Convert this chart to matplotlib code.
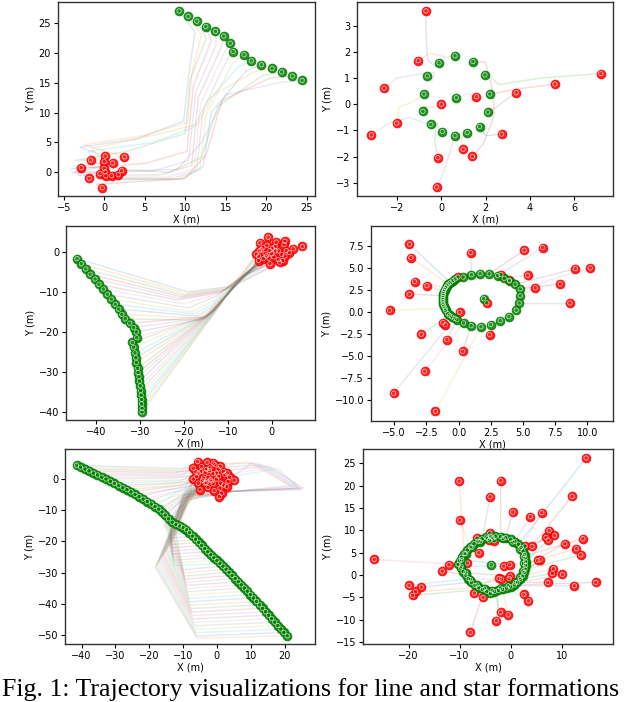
import matplotlib
matplotlib.use('Agg')
import matplotlib.pyplot as plt
import numpy as np

plt.rcParams['font.family'] = ['DejaVu Sans']

# ---------------- Panel 1 (line formation, 15 agents) ----------------
p1_goal_x = [9.24, 10.35, 11.42, 12.53, 13.72, 14.74, 15.56, 15.9, 17.25, 18.15, 19.4, 20.7, 21.9, 23.2, 24.4]
p1_goal_y = [27.0, 26.1, 25.3, 24.4, 23.6, 22.8, 21.6, 20.2, 19.7, 18.65, 18.0, 17.4, 16.8, 16.1, 15.4]
p1_start_x = [0.12, 2.5, -1.68, 0.0, 1.03, -2.83, 0.0, 2.14, -0.53, 0.2, 1.72, 0.9, -1.85, -0.25, 0.1]
p1_start_y = [2.73, 2.6, 2.06, 1.78, 1.56, 0.78, 0.67, 0.28, -0.22, -0.56, -0.39, -0.56, -1.0, -2.56, 0.1]
p1_via = [
    [(-3.0, 4.2), (4.0, 5.6), (9.8, 8.6), (10.4, 16.0), (11.2, 23.5)],
    [(-2.5, 4.6), (5.0, 6.2), (10.3, 8.4), (10.8, 16.5), (12.0, 23.0)],
    [(-3.6, 2.0), (3.0, 3.6), (10.0, 6.5), (10.6, 15.5), (12.6, 22.5)],
    [(-4.0, 0.6), (5.0, 1.5), (10.2, 3.5), (11.0, 14.5), (13.2, 22.0)],
    [(-3.8, -0.2), (6.0, 0.2), (10.4, 2.0), (11.3, 13.5), (13.8, 21.3)],
    [(-3.2, -0.5), (7.0, -0.4), (10.8, 1.2), (11.6, 12.5), (14.4, 20.8)],
    [(-2.2, -0.8), (7.8, -0.8), (11.1, 0.6), (11.9, 11.5), (14.8, 20.0)],
    [(-1.0, -1.0), (8.5, -1.0), (11.4, 0.4), (12.2, 10.5), (15.2, 19.0)],
    [(0.0, -1.1), (9.0, -1.1), (11.8, 0.4), (12.5, 9.5), (15.8, 18.2)],
    [(-2.0, 3.5), (6.0, 5.0), (11.0, 7.5), (12.8, 12.0), (16.5, 17.6)],
    [(1.0, -1.2), (9.5, -1.2), (12.2, 1.0), (13.2, 10.0), (17.5, 17.0)],
    [(-1.5, 4.0), (7.0, 6.5), (11.5, 8.0), (13.5, 13.0), (18.5, 16.8)],
    [(-3.5, 1.0), (8.0, 0.0), (12.0, 2.5), (14.0, 11.0), (19.5, 16.2)],
    [(-1.0, -2.0), (10.0, -1.0), (12.6, 3.0), (14.5, 12.0), (20.5, 15.8)],
    [(-3.9, 0.0), (9.0, 0.5), (12.0, 5.0), (15.0, 13.0), (21.5, 15.0)],
]

# ---------------- Panel 2 (star formation, 15 agents) ----------------
p2_goal_x = [0.62, -0.1, 1.43, -0.63, 1.97, -0.78, 0.68, 2.19, -0.83, 2.1, -0.47, 1.73, 0.05, 1.17, 0.62]
p2_goal_y = [1.85, 1.58, 1.63, 1.08, 1.12, 0.39, 0.25, 0.39, -0.27, -0.3, -0.77, -0.85, -1.04, -1.08, -1.2]
p2_start_x = [-0.69, -1.04, 7.2, 5.13, -2.58, 3.38, 1.59, 0.0, -2.01, -3.15, 2.72, 0.99, -0.15, 1.41, -0.21]
p2_start_y = [3.56, 1.66, 1.17, 0.77, 0.61, 0.44, 0.29, 0.0, -0.72, -1.17, -1.14, -1.72, -2.04, -1.99, -3.16]
p2_goal_of = [1, 0, 4, 7, 3, 9, 6, 8, 5, 10, 11, 13, 12, 2, 14]
p2_via = [
    [(-0.68, 2.6), (-0.62, 1.7), (-0.3, 1.45)],
    [(-0.5, 1.95), (0.2, 1.8)],
    [(4.5, 1.0), (2.6, 0.75), (2.3, 1.0)],
    [(3.6, 0.6), (2.6, 0.45)],
    [(-2.0, 1.0), (-1.0, 1.15), (-0.3, 1.2), (-0.4, 0.9)],
    [(2.8, 0.1), (2.5, -0.1)],
    [(1.2, 0.4), (0.9, 0.3)],
    [(-0.3, -0.1), (-1.0, -0.1)],
    [(-1.9, -0.1), (-1.4, 0.05), (-0.9, 0.3)],
    [(-2.3, -0.7), (-1.4, -0.5), (-0.8, -0.7)],
    [(2.0, -1.2)],
    [(0.9, -1.3)],
    [(-0.3, -1.4), (-0.2, -0.7), (-0.1, -0.95)],
    [(1.9, -1.5), (2.4, -0.4), (2.3, 0.6), (2.0, 1.6)],
    [(0.1, -2.6), (0.4, -1.8)],
]

# ---------------- Panel 3 (line formation, 33 agents) ----------------
p3_goal_x = [-44.3, -43.3, -42.3, -41.3, -40.2, -39.3, -38.3, -37.4, -36.5, -35.6, -34.8, -34.1, -33.3,
             -32.3, -31.4, -30.8, -30.7, -31.7, -31.4, -31.1, -30.9, -30.8, -30.5, -30.4, -30.2, -30.1,
             -29.9, -29.8, -29.7, -29.6, -29.6, -29.5, -29.5]
p3_goal_y = [-1.7, -3.0, -4.3, -5.6, -6.8, -8.1, -9.3, -10.6, -11.8, -13.1, -14.3, -15.6, -16.7,
             -17.8, -18.9, -20.0, -21.4, -22.6, -23.8, -25.2, -26.4, -27.6, -29.0, -30.1, -31.1, -32.2,
             -33.4, -34.6, -35.7, -36.8, -37.9, -39.0, -39.9]
p3_start_x = [-0.8, -2.7, 3.0, 7.0, -1.1, 0.8, 4.9, -2.4, -0.4, 1.5, 3.3, -3.0, 0.0, 3.0, -1.9, 1.5,
              -0.4, -3.0, 0.5, 2.3, -1.5, 1.0, -2.0, 2.8, 0.2, -1.2, 4.0, -2.8, 1.8, -0.6, 2.5, -3.5, 0.9]
p3_start_y = [3.6, 2.2, 2.6, 1.3, 1.6, 1.3, 0.7, 0.5, 0.3, 0.2, 0.3, -1.1, -0.5, -1.1, -1.7, -2.0,
              -3.0, -2.2, -1.3, -0.7, -0.5, 2.4, 1.0, 1.8, 0.9, -1.0, -0.2, 0.2, -2.6, -1.6, -2.2, -0.6, 0.2]
p3_via = [
    [(-3.0, -2.8), (-9.0, -8.6), (-19.0, -10.0)],
    [(-3.2, -3.0), (-9.5, -8.9), (-19.5, -10.4)],
    [(-3.4, -3.2), (-10.0, -9.2), (-20.0, -10.8)],
    [(-3.6, -3.4), (-10.5, -9.5), (-20.5, -11.2)],
    [(-3.8, -3.6), (-11.0, -9.8), (-21.0, -11.6)],
    [(-4.0, -3.8), (-11.5, -10.1), (-21.5, -12.0)],
    [(-4.2, -4.0), (-12.0, -10.4), (-20.0, -13.0)],
    [(-4.4, -4.2), (-12.5, -11.0), (-19.0, -14.0)],
    [(-4.6, -4.4), (-13.0, -12.0), (-18.0, -15.0)],
    [(-4.8, -4.6), (-13.5, -13.0), (-17.5, -15.5)],
    [(-5.0, -4.8), (-14.0, -14.0), (-17.0, -16.0)],
    [(-5.2, -5.0), (-14.5, -15.0), (-16.8, -16.5)],
    [(-5.4, -5.2), (-15.0, -16.0), (-16.6, -17.0)],
    [(-5.6, -5.4), (-15.2, -16.2)],
    [(-5.8, -5.6), (-15.0, -16.4)],
    [(-6.0, -5.8), (-14.8, -16.6)],
    [(-6.2, -6.0), (-14.6, -16.0)],
    [(-6.4, -6.2), (-14.4, -15.8)],
    [(-6.6, -6.4), (-14.2, -15.6)],
    [(-6.8, -6.6), (-14.0, -15.4)],
    [(-7.0, -6.8), (-13.8, -15.2)],
    [(-7.2, -7.0), (-13.6, -15.0)],
    [(-7.4, -7.2), (-13.4, -14.8)],
    [(-7.6, -7.4), (-13.2, -14.6)],
    [(-7.8, -7.6), (-13.0, -14.4)],
    [(-8.0, -7.8), (-12.8, -14.2)],
    [(-8.2, -8.0), (-12.6, -14.0)],
    [(-8.4, -8.2), (-12.4, -13.8)],
    [(-8.6, -8.4), (-12.2, -13.6)],
    [(-8.8, -8.6), (-12.0, -13.4)],
    [(-9.0, -8.8), (-11.8, -13.2)],
    [(-9.2, -9.0), (-11.6, -13.0)],
    [(-9.4, -9.2), (-11.4, -12.8)],
]

# ---------------- Panel 4 (star formation) ----------------
p4_goal_x = [0.36, 1.0, 1.68, 2.38, 3.03, 3.55, 3.96, 4.4, 4.79, 4.79, 4.72, 4.48, 3.91, 3.24, 2.49, 1.74,
             0.98, 0.39, -0.13, -0.52, -0.83, -1.01, -1.14, -1.22, -1.22, -1.19, -1.09, -0.91, -0.65, -0.26,
             1.94, -1.05, -1.2, -1.22, -1.2, -1.15, -1.0, -0.8, -0.45, -0.7, -0.3]
p4_goal_y = [4.0, 4.28, 4.39, 4.36, 4.17, 3.86, 3.56, 3.18, 2.65, 1.89, 1.06, 0.23, -0.49, -0.95, -1.4, -1.63,
             -1.52, -1.21, -0.83, -0.53, -0.15, 0.23, 0.68, 1.17, 1.67, 2.12, 2.58, 2.99, 3.37, 3.79,
             1.55, 0.45, 0.92, 1.42, 1.9, 2.35, 2.8, 3.2, 3.6, -0.35, -0.7]
p4_start_x = [-3.81, -3.7, 0.93, 5.1, 6.53, 9.07, 10.23, 5.36, 3.29, -0.05, 3.94, -3.42, -2.46, 7.9, 5.96,
              -3.83, 2.2, 8.65, -5.36, 0.08, -1.22, -1.04, -2.9, 2.41, -0.91, 0.31, -2.64, -5.05, -1.79]
p4_start_y = [7.73, 6.21, 6.78, 7.05, 7.35, 4.96, 5.04, 4.2, 4.28, 4.0, 3.64, 3.48, 3.03, 3.22, 2.77,
              2.05, 1.06, 1.06, 0.23, 0.0, -1.17, -1.4, -2.5, -2.54, -3.1, -4.43, -6.7, -9.2, -11.25]
p4_goal_of = [28, 37, 1, 3, 4, 7, 8, 5, 3, 0, 6, 36, 35, 8, 9, 34, 30, 10, 31, 22, 19, 20, 39, 13, 18, 16, 17, 40, 15]

# ---------------- Panel 5 (line formation) ----------------
p5_goal_x = [-41.5, -40.3, -39.0, -37.8, -36.5, -35.3, -34.0, -32.8, -31.5, -30.3, -29.0, -27.8, -26.6,
             -25.4, -24.2, -23.0, -21.8, -20.6, -19.4, -18.3, -17.2,
             -16.2, -15.3, -14.3, -13.2, -12.1, -11.0, -10.0, -9.0, -8.1, -7.2, -6.3, -5.4, -4.5, -3.6,
             -2.7, -1.8, -0.9, 0.0, 0.9,
             1.8, 2.7, 3.6, 4.5, 5.4, 6.3, 7.2, 8.1, 9.0, 9.9, 10.8, 11.7, 12.6, 13.5, 14.4, 15.3, 16.2,
             17.1, 18.0, 18.9, 19.8, 20.8]
p5_goal_y = [4.3, 3.7, 3.1, 2.5, 1.8, 1.2, 0.5, -0.1, -0.8, -1.5, -2.2, -2.9, -3.5,
             -4.2, -5.0, -5.7, -6.5, -7.3, -8.1, -8.9, -9.7,
             -10.6, -11.6, -12.8, -13.9, -14.6, -15.1, -15.6, -16.3, -17.2, -18.3, -19.3, -20.3, -21.3, -22.3,
             -23.3, -24.3, -25.2, -26.1, -27.0,
             -27.9, -28.9, -29.9, -30.9, -31.9, -32.9, -33.9, -34.9, -35.9, -37.0, -38.1, -39.2, -40.3,
             -41.4, -42.5, -43.6, -44.7, -45.8, -46.9, -48.0, -49.1, -50.2]
p5_start_x = [-5.7, -2.9, -1.1, -4.5, -7.0, -2.1, 0.4, 1.9, -5.5, -3.5, -1.1, -7.0, -4.0, -2.6, -0.1,
              3.8, 5.1, -5.5, -3.1, -1.1, 1.1, 3.3, -5.0, -2.6, 0.9, 1.4, 0.7, 2.4, -4.7, -0.6,
              -3.5, -1.9, 2.9, -6.0, -0.1, -3.0, -1.5, 0.5, 2.0, -4.2, -2.2, 1.0, -6.2, 3.0, -0.8]
p5_start_y = [5.5, 5.2, 5.0, 3.9, 3.4, 3.4, 3.1, 2.3, 1.8, 2.0, 1.6, -0.1, 0.2, 0.5, -0.1,
              0.5, -0.5, -1.4, -1.2, -1.6, -1.4, -0.9, -3.5, -2.8, -3.0, -4.6, -5.7, 1.3, 2.3, 4.5,
              -1.4, -0.3, -2.5, 0.7, 1.8, 3.0, -0.8, 0.8, -2.0, -0.5, 2.6, 4.0, 2.2, 1.8, -3.8]
# upper-left agents: one bend point each
p5_bend_x = [-10, -11, -9, -12, -10, -11, -9, -12, -10, -11, -9, -12, -10, -11, -9, -12, -10, -11, -9, -12, -10]
p5_bend_y = [3.2, 2.7, 2.3, 1.9, 1.5, 1.0, 0.6, 0.3, -0.3, -0.6, -1.1, -1.4, -1.9, -2.2, -2.7, -3.0, -3.5, -3.8, -4.3, -4.6, -5.1]
# middle/lower agents: knee, descent, corner
p5_knee_x = [-9, -8.5, -8, -8.8, -7.5, -9.5, -8, -7, -8.5, -9, -7.5, -8, -9.2, -8.3, -7.8, -8.8, -9, -7.6, -8.4,
             -8, -8.5, -9, -9.5, -10, -8.2, -8.7, -9.2, -9.7, -10.2, -8.4, -8.9, -9.4, -9.9, -10.4, -8.6,
             -9.1, -9.6, -10.1, -10.6, -9, -9.5]
p5_knee_y = [-4, -4.5, -5, -4.2, -5.5, -4.8, -5.2, -6, -4.6, -5.5, -6.2, -5, -4.4, -5.8, -6.5, -5.1, -6, -6.8, -5.4,
             -5, -5.5, -6, -6.5, -5.2, -5.7, -6.2, -6.7, -5.4, -5.9, -6.4, -6.9, -5.6, -6.1, -6.6, -7.1,
             -5.8, -6.3, -6.8, -7.3, -6, -6.5]
p5_desc_x = [-14, -14, -14, -14, -13.5, -13.5, -13.5, -13.5, -13.5, -13.5, -13.5, -13.5, -13.5, -13.5, -13.5,
             -13.5, -13.5, -13.5, -13.5,
             -12, -12.3, -12.6, -12.9, -13.2, -13.5, -13.8, -14.1, -14.4, -14.7, -15, -15.3, -15.6, -15.9,
             -16.2, -16.5, -16.8, -17.1, -17.4, -17.7, -18, -18.3]
p5_desc_y = [-8, -9, -10, -11, -12, -12.5, -13, -13.5, -14, -14.5, -15, -15.5, -16, -16.5, -17, -17.5, -18, -18.5, -19,
             -18, -18.5, -19, -19.5, -20, -20.5, -21, -21.5, -22, -22.5, -23, -23.5, -24, -24.5,
             -25, -25.5, -26, -26.5, -27, -27.5, -28, -28.5]
p5_corner_x = [-17, -16.5, -16, -15.8, -15.5, -15.2, -15, -14.8, -14.6, -14.4, -14.2, -14, -13.8, -13.6, -13.4,
               -13.2, -13, -12.8, -12.6,
               -10, -9.8, -9.6, -9.4, -9.2, -9.0, -8.8, -8.6, -8.4, -8.2, -8.0, -7.8, -7.6, -7.4, -7.2,
               -7.0, -6.8, -6.6, -6.4, -6.2, -6.0, -5.8]
p5_corner_y = [-11.4, -12.4, -13.6, -14.7, -15.4, -15.9, -16.4, -17.1, -18.0, -19.1, -20.1, -21.1, -22.1, -23.1,
               -24.1, -25.1, -26.0, -26.9, -27.8,
               -29.1, -30.1, -31.1, -32.1, -33.1, -34.1, -35.1, -36.1, -37.1, -38.2, -39.3, -40.4, -41.5,
               -42.6, -43.7, -44.8, -45.9, -47.0, -48.1, -49.2, -50.3, -51.0]
# agents that loop out to the right before heading down
p5_loop_agents = [41, 44, 47, 50, 53, 56, 59]
p5_loop_x = [9.0, 10.5, 12.0, 13.5, 15.0, 16.5, 18.0]
p5_loop_y = [5.5, 5.2, 4.8, 4.4, 4.0, 3.6, 3.2]
p5_tip_x = [22.0, 23.0, 24.0, 25.0, 25.5, 24.5, 23.5]
p5_tip_y = [-2.5, -3.0, -3.2, -3.5, -3.0, -2.8, -2.0]

# ---------------- Panel 6 (star formation) ----------------
p6_goal_x = [-4.0, -3.0, -2.0, -1.0, 0.0, 0.8, 1.5, 2.0, 2.4, 2.7, 2.8, 2.9, 2.9, 2.8, 2.6, 2.3, 1.9, 1.3, 0.7,
             0.0, -0.8, -1.6, -2.4, -3.2, -4.0, -4.7, -5.5, -6.3, -7.0, -7.7, -8.3, -8.8, -9.3, -9.8, -10.3,
             -10.0, -9.6, -9.1, -8.5, -7.9, -7.2, -6.4, -5.6, -4.8,
             -3.5, -1.5, 0.4, 1.8, 2.5, 2.5, 2.4, 1.8, 0.9, -0.5, -2.0, -3.6, -5.1, -6.6, -7.9, -8.8, -9.7,
             -9.6, -8.8, -7.6, -6.0, -4.5, -3.8]
p6_goal_y = [8.7, 8.7, 8.6, 8.4, 8.0, 7.5, 6.9, 6.2, 5.4, 4.6, 3.8, 3.0, 2.2, 1.4, 0.6, -0.2, -0.9, -1.6, -2.2,
             -2.6, -2.9, -3.2, -3.4, -3.7, -4.1, -3.6, -3.2, -2.8, -2.3, -1.6, -0.8, 0.0, 0.8, 1.6, 2.4,
             3.2, 4.0, 4.8, 5.6, 6.3, 7.0, 7.6, 8.1, 8.5,
             8.3, 8.2, 7.4, 5.8, 4.2, 2.6, 1.0, -0.5, -1.7, -2.4, -2.9, -3.5, -3.0, -2.2, -1.0, 0.5, 2.0,
             3.4, 4.8, 6.2, 7.5, 8.2, 2.3]
p6_start_x = [14.74, -10.1, -1.96, 12.0, -4.04, 0.39, 6.07, 3.85, -9.98, 7.5, 6.9, 8.55, 7.3, 14.1, -4.1,
              10.57, -4.17, -3.26, -6.6, 2.8, 4.17, 12.85, 13.7, -6.26, 5.74, 5.28, -26.7, -12.07, -8.48,
              -1.37, -0.2, 8.35, 8.15, -13.4, 10.11, -0.13, -0.33, -2.28, -1.83, -19.9, -17.5, -18.6, -19.2,
              7.24, 12.46, 16.6, -7.1, -5.41, 2.54, 3.46, -2.0, -0.52, -2.8, -7.9]
p6_start_y = [26.2, 21.0, 21.1, 17.6, 17.5, 14.1, 13.96, 13.06, 12.3, 9.93, 8.43, 8.88, 7.84, 8.13, 9.4,
              7.0, 7.76, 7.69, 8.28, 6.5, 6.42, 5.9, 4.55, 5.0, 3.43, 3.28, 3.5, 2.31, 2.69,
              2.01, 2.31, 1.42, 0.37, 0.9, 0.15, -0.22, -0.75, -0.75, -0.9, -2.31, -2.69, -3.66, -4.55,
              -1.64, -2.39, -1.64, -4.03, -5.0, -4.33, -5.75, -8.28, -8.88, -10.2, -12.8]
p6_goal_of = [6, 37, 2, 9, 42, 3, 7, 5, 39, 10, 8, 47, 11, 48, 41, 12, 0, 1, 40, 13, 46, 49, 50, 38, 14, 51,
              34, 33, 63, 60, 61, 15, 16, 31, 52, 59, 58, 57, 28, 30, 29, 27, 26, 17, 53, 18, 25, 24, 19, 20,
              23, 21, 22, 56]

# ---------------- drawing ----------------
fig = plt.figure(figsize=(6.4, 7.02), dpi=100)
W, H = 640.0, 702.0


def make_ax(l, r, t, b):
    return fig.add_axes([l / W, 1 - b / H, (r - l) / W, (b - t) / H])


line_colors = plt.rcParams['axes.prop_cycle'].by_key()['color']


def draw_paths(ax, paths, alpha=0.2):
    for k, p in enumerate(paths):
        arr = np.array(p)
        ax.plot(arr[:, 0], arr[:, 1], color=line_colors[k % len(line_colors)],
                alpha=alpha, lw=1.0, zorder=1)


def draw_markers(ax, xs, ys, color):
    ax.scatter(xs, ys, s=38, c=color, alpha=0.85, edgecolors=color, linewidths=0.8, zorder=3)
    ax.scatter(xs, ys, s=10, facecolors='none', edgecolors='white', linewidths=0.5, alpha=0.75, zorder=4)


def style(ax, xlim, ylim, xt, yt, xtl=None, ytl=None):
    ax.set_xlim(*xlim)
    ax.set_ylim(*ylim)
    ax.set_xticks(xt)
    ax.set_yticks(yt)
    if xtl is not None:
        ax.set_xticklabels(xtl)
    if ytl is not None:
        ax.set_yticklabels(ytl)
    ax.tick_params(labelsize=7, length=3, width=0.8, pad=2)
    ax.set_xlabel('X (m)', fontsize=7, labelpad=1)
    ax.set_ylabel('Y (m)', fontsize=7, labelpad=2)
    for s in ax.spines.values():
        s.set_linewidth(1.0)
        s.set_color('#333333')


# Panel 1
ax1 = make_ax(58, 315, 2, 196)
paths = []
for i in range(len(p1_goal_x)):
    paths.append([(p1_start_x[i], p1_start_y[i])] + p1_via[i] + [(p1_goal_x[i], p1_goal_y[i])])
draw_paths(ax1, paths, 0.17)
draw_markers(ax1, p1_start_x, p1_start_y, 'red')
draw_markers(ax1, p1_goal_x, p1_goal_y, 'green')
style(ax1, (-5.7, 26), (-3.95, 28.5), [-5, 0, 5, 10, 15, 20, 25], [0, 5, 10, 15, 20, 25])

# Panel 2
ax2 = make_ax(357, 613, 2, 196)
paths = []
for i in range(len(p2_start_x)):
    g = p2_goal_of[i]
    paths.append([(p2_start_x[i], p2_start_y[i])] + p2_via[i] + [(p2_goal_x[g], p2_goal_y[g])])
draw_paths(ax2, paths, 0.18)
draw_markers(ax2, p2_start_x, p2_start_y, 'red')
draw_markers(ax2, p2_goal_x, p2_goal_y, 'green')
style(ax2, (-3.8, 7.75), (-3.5, 3.9), [-2, 0, 2, 4, 6], [-3, -2, -1, 0, 1, 2, 3])

# Panel 3
ax3 = make_ax(66, 315, 226, 420)
paths = []
for i in range(len(p3_goal_x)):
    paths.append([(p3_start_x[i], p3_start_y[i])] + p3_via[i] + [(p3_goal_x[i], p3_goal_y[i])])
draw_paths(ax3, paths, 0.17)
draw_markers(ax3, p3_start_x, p3_start_y, 'red')
draw_markers(ax3, p3_goal_x, p3_goal_y, 'green')
style(ax3, (-46.8, 9.85), (-41.9, 6.4), [-40, -30, -20, -10, 0], [-40, -30, -20, -10, 0])

# Panel 4
ax4 = make_ax(371, 613, 226, 421)
paths = []
for i in range(len(p4_start_x)):
    g = p4_goal_of[i]
    paths.append([(p4_start_x[i], p4_start_y[i]), (p4_goal_x[g], p4_goal_y[g])])
draw_paths(ax4, paths, 0.18)
draw_markers(ax4, p4_start_x, p4_start_y, 'red')
draw_markers(ax4, p4_goal_x, p4_goal_y, 'green')
style(ax4, (-6.8, 12.0), (-12.35, 9.8), [-5, -2.5, 0, 2.5, 5, 7.5, 10],
      [-10, -7.5, -5, -2.5, 0, 2.5, 5, 7.5],
      ['−5.0', '−2.5', '0.0', '2.5', '5.0', '7.5', '10.0'],
      ['−10.0', '−7.5', '−5.0', '−2.5', '0.0', '2.5', '5.0', '7.5'])

# Panel 5
ax5 = make_ax(65, 315, 449, 644)
paths = []
ns = len(p5_start_x)
for i in range(len(p5_goal_x)):
    s = (p5_start_x[i % ns], p5_start_y[i % ns])
    g = (p5_goal_x[i], p5_goal_y[i])
    if i < 21:
        paths.append([s, (p5_bend_x[i], p5_bend_y[i]), g])
    else:
        j = i - 21
        p = [s]
        if i in p5_loop_agents:
            m = p5_loop_agents.index(i)
            p += [(p5_loop_x[m], p5_loop_y[m]), (p5_tip_x[m], p5_tip_y[m]), (5.0, -4.0)]
        p += [(p5_knee_x[j], p5_knee_y[j]), (p5_desc_x[j], p5_desc_y[j]),
              (p5_corner_x[j], p5_corner_y[j]), g]
        paths.append(p)
draw_paths(ax5, paths, 0.15)
draw_markers(ax5, p5_start_x, p5_start_y, 'red')
draw_markers(ax5, p5_goal_x, p5_goal_y, 'green')
style(ax5, (-44.9, 29.0), (-52.8, 9.5), [-40, -30, -20, -10, 0, 10, 20], [-50, -40, -30, -20, -10, 0])

# Panel 6
ax6 = make_ax(363, 613, 449, 644)
paths = []
for i in range(len(p6_start_x)):
    g = p6_goal_of[i]
    paths.append([(p6_start_x[i], p6_start_y[i]), (p6_goal_x[g], p6_goal_y[g])])
draw_paths(ax6, paths, 0.18)
draw_markers(ax6, p6_start_x, p6_start_y, 'red')
draw_markers(ax6, p6_goal_x, p6_goal_y, 'green')
style(ax6, (-28.9, 20.0), (-15.4, 28.2), [-20, -10, 0, 10], [-15, -10, -5, 0, 5, 10, 15, 20, 25])

fig.text(0.003, 0.009, 'Fig. 1: Trajectory visualizations for line and star formations',
         family=['Liberation Serif', 'DejaVu Serif'], fontsize=18.6, ha='left', va='baseline')

fig.savefig('out.png', dpi=100)
